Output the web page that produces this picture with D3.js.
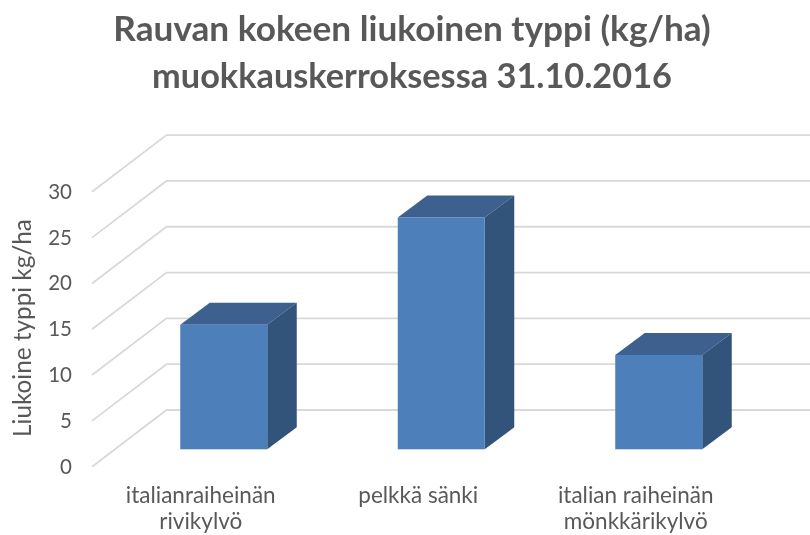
<!DOCTYPE html>
<html><head><meta charset="utf-8">
<script src="https://cdn.jsdelivr.net/npm/d3@7/dist/d3.min.js"></script>
<style>html,body{margin:0;padding:0;background:#fff}svg{display:block}text{font-family:Lato,"Open Sans",sans-serif}</style>
</head><body><svg id="c" width="810" height="535"></svg>
<script>
const titleLines = ["Rauvan kokeen liukoinen typpi (kg/ha)", "muokkauskerroksessa 31.10.2016"];
const yAxisTitle = "Liukoine typpi kg/ha";
const categories = ["italianraiheinän rivikylvö", "pelkkä sänki", "italian raiheinän mönkkärikylvö"];
const categoryLines = [["italianraiheinän", "rivikylvö"], ["pelkkä sänki"], ["italian raiheinän", "mönkkärikylvö"]];
const values = [13.6, 25.3, 10.3];
const yTicks = [0, 5, 10, 15, 20, 25, 30];

const svg = d3.select("#c");
const defs = svg.append("defs");
defs.append("filter").attr("id", "soft").attr("x", "-5%").attr("y", "-5%").attr("width", "110%").attr("height", "110%")
  .append("feGaussianBlur").attr("stdDeviation", 0.7);
const root = svg.append("g").attr("filter", "url(#soft)");

const y = d3.scaleLinear().domain([0, 30]).range([466.7, 191.8]);
const x = d3.scaleBand().domain(categories).range([115, 767.5]).paddingInner(0).paddingOuter(0);
const wallDx = 74.5, wallDy = -56.7, barDx = 29.5, barDy = -22, barW = 87;
const baseOffset = -17.4, gridLeft = 92, gridRight = 812, labelShift = -23;
const titleSizes = [35.2, 34.3];

// gridlines
const grid = root.append("g");
grid.selectAll("path").data(yTicks).join("path")
  .attr("d", d => d3.line()([[gridLeft, y(d)], [gridLeft + wallDx, y(d) + wallDy], [gridRight, y(d) + wallDy]]))
  .attr("fill", "none").attr("stroke", "#d9d9d9").attr("stroke-width", 1.8);

// bars
const bars = root.append("g").selectAll("g").data(categories).join("g");
const barLeft = c => x(c) + x.bandwidth() / 2 - barW / 2;
const barTop = (c, i) => y(values[i]) + baseOffset;
const barBottom = y(0) + baseOffset;
bars.append("path").attr("fill", "#3c618e")
  .attr("d", (c, i) => { const l = barLeft(c), t = barTop(c, i); return d3.line()([[l, t], [l + barDx, t + barDy], [l + barW + barDx, t + barDy], [l + barW, t]]) + "Z"; });
bars.append("path").attr("fill", "#31527a")
  .attr("d", (c, i) => { const r = barLeft(c) + barW, t = barTop(c, i); return d3.line()([[r, t], [r + barDx, t + barDy], [r + barDx, barBottom + barDy], [r, barBottom]]) + "Z"; });
bars.append("rect").attr("fill", "#4e7fbb")
  .attr("x", c => barLeft(c)).attr("width", barW)
  .attr("y", (c, i) => barTop(c, i)).attr("height", (c, i) => barBottom - barTop(c, i));

// y ticks
root.append("g").selectAll("text").data(yTicks).join("text")
  .attr("x", 72).attr("y", d => y(d) + 7).attr("text-anchor", "end")
  .attr("font-size", 20.5).attr("fill", "#595959").text(d => d);

// y title
root.append("text").attr("transform", "translate(31,328) rotate(-90)")
  .attr("text-anchor", "middle").attr("font-size", 24.3).attr("fill", "#595959").text(yAxisTitle);

// category labels
bars.each(function (c, i) {
  const cx = x(c) + x.bandwidth() / 2 + labelShift;
  root.append("g").selectAll("text").data(categoryLines[i]).join("text")
    .attr("x", cx).attr("y", (d, j) => 503 + j * 26).attr("text-anchor", "middle")
    .attr("font-size", 22.5).attr("fill", "#595959").text(d => d);
});

// title
root.append("g").selectAll("text").data(titleLines).join("text")
  .attr("x", 412).attr("y", (d, i) => 41 + i * 47).attr("text-anchor", "middle")
  .attr("font-size", (d, i) => titleSizes[i]).attr("font-weight", 700).attr("fill", "#595959").text(d => d);
</script></body></html>
